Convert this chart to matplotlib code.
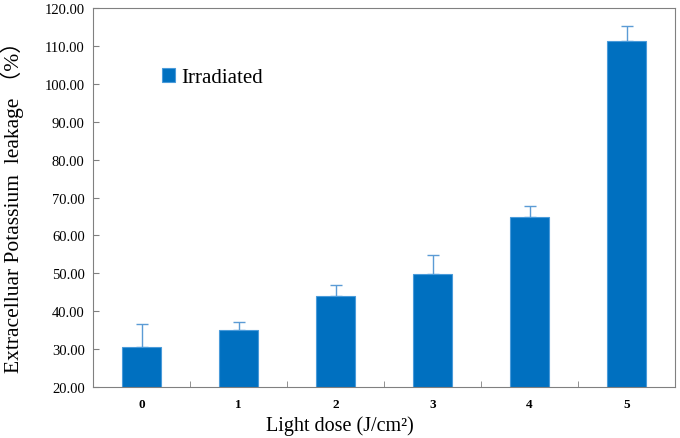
import matplotlib.pyplot as plt
import numpy as np

# Values
doses = ['0', '1', '2', '3', '4', '5']
leakage = [30.6, 35.0, 44.0, 49.8, 64.8, 111.3]
leakage_err = [6.0, 2.1, 2.9, 5.0, 3.0, 3.9]

plt.rcParams['font.family'] = ['Liberation Serif', 'Noto Sans CJK SC']

fig = plt.figure(figsize=(6.8, 4.39), dpi=100)
ax = fig.add_axes([93 / 680, 1 - 388 / 439, 582 / 680, 379 / 439])

x = np.arange(len(doses))
ax.bar(x, leakage, width=0.4, bottom=0, color='#0070C0',
       edgecolor='#4A9BDA', linewidth=0.8, label='Irradiated', zorder=2)
ax.errorbar(x, leakage, yerr=[np.zeros(len(x)), leakage_err], fmt='none',
            ecolor='#5B9BD5', elinewidth=1, capsize=4, capthick=1, zorder=1)

ax.set_xlim(-0.5, 5.5)
ax.set_ylim(20, 120)
ax.set_yticks(np.arange(20, 121, 10))
ax.set_yticklabels(['%.2f' % v for v in np.arange(20, 121, 10)],
                   fontsize=10.5)

ax.set_xticks(x)
ax.set_xticklabels(doses, fontsize=9.5, fontweight='bold')
ax.set_xticks(np.arange(-0.5, 5.6, 1), minor=True)
ax.tick_params(axis='x', which='major', length=0, pad=8)
ax.tick_params(axis='x', which='minor', direction='in', length=4,
               color='#808080')
ax.tick_params(axis='y', direction='in', length=4, color='#808080', pad=6)

for spine in ax.spines.values():
    spine.set_color('#808080')

ax.set_xlabel('Light dose (J/cm²)', fontsize=14.5)
ax.xaxis.set_label_coords(0.425, -0.074)
ax.set_ylabel('Extracelluar Potassium  leakage （%）', fontsize=15.5)
ax.yaxis.set_label_coords(-0.118, 0.49)

ax.legend(loc='upper left', bbox_to_anchor=(0.087, 0.89), frameon=False,
          fontsize=15, handlelength=0.6, handleheight=0.6,
          handletextpad=0.3)

fig.savefig('out.png', dpi=100)
